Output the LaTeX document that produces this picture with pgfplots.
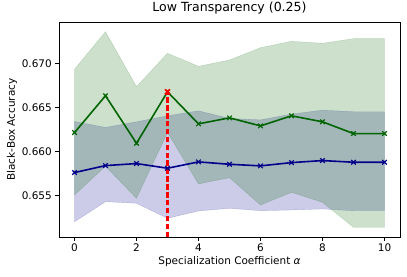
\documentclass[border=0pt]{standalone}
\usepackage{fontspec}
\setmainfont{DejaVu Sans}
\usepackage{pgfplots}
\pgfplotsset{compat=1.18}
\definecolor{dgreen}{RGB}{0,100,0}
\definecolor{dblue}{RGB}{0,0,139}
\definecolor{bestred}{RGB}{255,0,0}
\begin{document}
\begin{tikzpicture}
\begin{axis}[
  at={(0,0)}, anchor=south west,
  scale only axis, width=341bp, height=215bp,
  xmin=-0.5, xmax=10.5, ymin=0.65032, ymax=0.67468,
  xtick={0,2,4,6,8,10},
  ytick={0.655,0.660,0.665,0.670},
  yticklabel style={/pgf/number format/.cd, fixed, fixed zerofill, precision=3},
  /pgf/number format/assume math mode=true,
  scaled y ticks=false,
  tick align=outside, major tick length=3.7bp,
  xtick pos=bottom, ytick pos=left,
  axis line style={line width=0.85bp},
  tick style={line width=0.85bp, black},
  ticklabel style={font=\fontsize{10.5}{12}\selectfont},
  label style={font=\fontsize{10.5}{12}\selectfont},
  title style={font=\fontsize{12.6}{14}\selectfont, yshift=-2bp},
  title={Low Transparency (0.25)},
  xlabel={Specialization Coefficient \textit{α}},
  ylabel={Black-Box Accuracy},
  xlabel style={yshift=2bp},
  ylabel style={yshift=-2bp},
]
% blue band: upper then reversed lower
\addplot[fill=dblue, fill opacity=0.2, draw=dblue, draw opacity=0.2] coordinates {
 (0,0.66341) (1,0.66273) (2,0.66337) (3,0.66405) (4,0.66461) (5,0.66375) (6,0.66359) (7,0.66424) (8,0.66469) (9,0.66451) (10,0.66451)
 (10,0.65330) (9,0.65330) (8,0.65350) (7,0.65338) (6,0.65330) (5,0.65357) (4,0.65327) (3,0.65244) (2,0.65414) (1,0.65432) (0,0.65205)
 (0,0.66341)};
% green band
\addplot[fill=dgreen, fill opacity=0.2, draw=dgreen, draw opacity=0.2] coordinates {
 (0,0.66932) (1,0.67358) (2,0.66735) (3,0.67113) (4,0.66966) (5,0.67037) (6,0.67177) (7,0.67249) (8,0.67227) (9,0.67279) (10,0.67279)
 (10,0.65142) (9,0.65142) (8,0.65425) (7,0.65538) (6,0.65395) (5,0.65704) (4,0.65633) (3,0.66217) (2,0.65470) (1,0.65835) (0,0.65508)
 (0,0.66932)};
% blue mean
\addplot[dblue, line width=1.6bp, mark=x, mark size=3.2bp, mark options={line width=1.2bp}] coordinates {
 (0,0.65762) (1,0.65841) (2,0.65864) (3,0.65811) (4,0.65883) (5,0.65856) (6,0.65838) (7,0.65875) (8,0.65898) (9,0.65879) (10,0.65879)
};
% green mean
\addplot[dgreen, line width=1.6bp, mark=x, mark size=3.2bp, mark options={line width=1.2bp}] coordinates {
 (0,0.66215) (1,0.66632) (2,0.66094) (3,0.66677) (4,0.66314) (5,0.66382) (6,0.66291) (7,0.66405) (8,0.66337) (9,0.66204) (10,0.66204)
};
% best alpha
\addplot[color=bestred, line width=2.2bp, dash pattern=on 5.5bp off 2.4bp, mark=none] coordinates {(3,0.65032) (3,0.66677)};
\addplot[only marks, red, mark=x, mark size=3.5bp, mark options={line width=1.6bp}] coordinates {(3,0.66677)};
\end{axis}
\pgfresetboundingbox
\path (-59bp,-40bp) rectangle (348bp,237bp);
\end{tikzpicture}
\end{document}
